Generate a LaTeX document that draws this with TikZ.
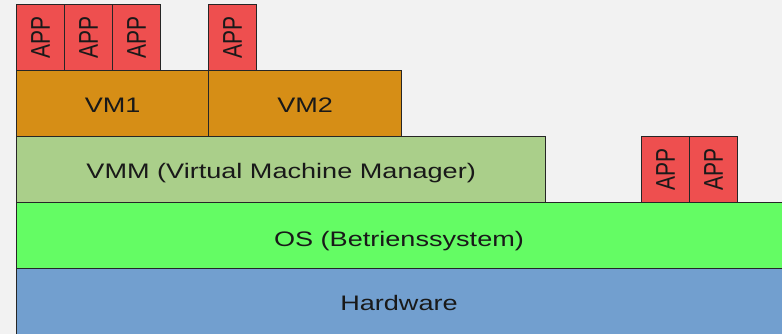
\documentclass[tikz,border=0pt]{standalone}
\usepackage{fontspec}
\usepackage{graphicx}
\setmainfont[FakeStretch=1.29]{Liberation Sans}
\newfontfamily\appfont{Liberation Sans}
\definecolor{bgcol}{HTML}{F2F2F2}
\definecolor{appred}{HTML}{EE4F4F}
\definecolor{vmorange}{HTML}{D68E16}
\definecolor{vmmgreen}{HTML}{AACF8A}
\definecolor{osgreen}{HTML}{64FC64}
\definecolor{hwblue}{HTML}{729FCF}
\newcommand{\apptext}{\appfont\fontsize{21}{24}\selectfont\scalebox{1.29}[1]{\rotatebox{90}{APP}}}
\begin{document}
\begin{tikzpicture}[x=1pt,y=-1pt,
  labeltext/.style={font=\fontsize{21}{24}\selectfont, text=black!90, inner sep=0pt},
  layer/.style={labeltext, draw=black!85, line width=1.3pt, anchor=north west, minimum height=66pt},
  textlayer/.style={layer, text height=18pt, text depth=0pt},
  appbox/.style={layer, fill=appred, minimum width=48pt},
  vmbox/.style={textlayer, fill=vmorange},
  vmmbox/.style={textlayer, fill=vmmgreen},
  osbox/.style={layer, fill=osgreen},
  hwbox/.style={layer, fill=hwblue}]
  \clip (0,0) rectangle (782,334);
  \fill[bgcol] (0,0) rectangle (782,334);
  \node[hwbox, minimum width=790pt, minimum height=90pt] (hw) at (16,268) {};
  \node[labeltext, anchor=base] (hwlabel) at (399,310) {Hardware};
  \node[osbox, minimum width=790pt] (os) at (16,202) {};
  \node[labeltext, anchor=base] (oslabel) at (399,246) {OS (Betrienssystem)};
  \node[vmmbox, minimum width=529pt] (vmm) at (16,136) {VMM (Virtual Machine Manager)};
  \node[vmbox, minimum width=192pt] (vm1) at (16,70) {VM1};
  \node[vmbox, minimum width=193pt] (vm2) at (208,70) {VM2};
  \node[appbox] (app1) at (16,4) {\apptext};
  \node[appbox] (app2) at (64,4) {\apptext};
  \node[appbox] (app3) at (112,4) {\apptext};
  \node[appbox] (app4) at (208,4) {\apptext};
  \node[appbox] (app5) at (641,136) {\apptext};
  \node[appbox] (app6) at (689,136) {\apptext};
\end{tikzpicture}
\end{document}
